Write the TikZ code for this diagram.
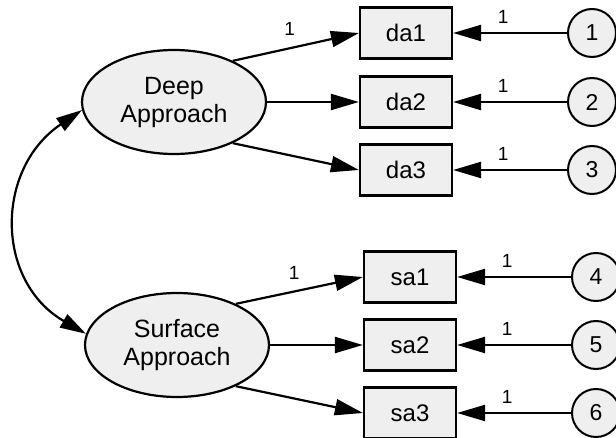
\documentclass[tikz,border=0pt]{standalone}
\usepackage{fontspec}
\setmainfont{Liberation Sans}
\usetikzlibrary{arrows.meta,shapes.geometric}
\definecolor{shapefill}{HTML}{EFEFEF}
\begin{document}
\begin{tikzpicture}[x=1pt,y=1pt,
  latent/.style={ellipse,draw,line width=2.2pt,fill=shapefill,minimum width=184pt,minimum height=104pt,inner sep=0pt,align=center,font=\fontsize{25}{28}\selectfont},
  obs/.style={rectangle,draw,line width=2.2pt,fill=shapefill,minimum width=92pt,minimum height=51pt,inner sep=0pt,font=\fontsize{24}{28}\selectfont},
  err/.style={circle,draw,line width=2pt,fill=shapefill,minimum size=48pt,inner sep=0pt,font=\fontsize{23}{27}\selectfont},
  arr/.style={line width=2.2pt,-{Triangle[length=28pt,width=16pt]}},
  cov/.style={line width=2.2pt,{Triangle[length=26pt,width=15pt]}-{Triangle[length=26pt,width=15pt]}},
  lbl/.style={font=\fontsize{19}{22}\selectfont,inner sep=0pt}
]
\useasboundingbox (0,0) rectangle (616,-438);

\node[latent] (deep) at (174,-102) {Deep\\Approach};
\node[latent] (surf) at (177,-345) {Surface\\Approach};

\node[obs] (da1) at (406,-33) {da1};
\node[obs] (da2) at (406,-102) {da2};
\node[obs] (da3) at (406,-170) {da3};
\node[obs] (sa1) at (410,-277) {sa1};
\node[obs] (sa2) at (410,-345) {sa2};
\node[obs] (sa3) at (410,-413) {sa3};

\node[err] (e1) at (592,-33) {1};
\node[err] (e2) at (592,-102) {2};
\node[err] (e3) at (592,-170) {3};
\node[err] (e4) at (596,-277) {4};
\node[err] (e5) at (596,-345) {5};
\node[err] (e6) at (596,-413) {6};

\draw[arr] (deep.35) -- node[lbl,pos=0.45,yshift=19pt]{1} (da1.west);
\draw[arr] (deep.east) -- (da2.west);
\draw[arr] (deep.-35) -- (da3.west);
\draw[arr] (surf.35) -- node[lbl,pos=0.46,yshift=19pt]{1} (sa1.west);
\draw[arr] (surf.east) -- (sa2.west);
\draw[arr] (surf.-35) -- (sa3.west);

\draw[arr] (e1.west) -- node[lbl,pos=0.56,yshift=16pt]{1} (da1.east);
\draw[arr] (e2.west) -- node[lbl,pos=0.56,yshift=16pt]{1} (da2.east);
\draw[arr] (e3.west) -- node[lbl,pos=0.56,yshift=16pt]{1} (da3.east);
\draw[arr] (e4.west) -- node[lbl,pos=0.56,yshift=16pt]{1} (sa1.east);
\draw[arr] (e5.west) -- node[lbl,pos=0.56,yshift=16pt]{1} (sa2.east);
\draw[arr] (e6.west) -- node[lbl,pos=0.56,yshift=16pt]{1} (sa3.east);

\draw[cov] (deep.185) to[out=214,in=150,looseness=1.2] (surf.173);
\end{tikzpicture}
\end{document}
